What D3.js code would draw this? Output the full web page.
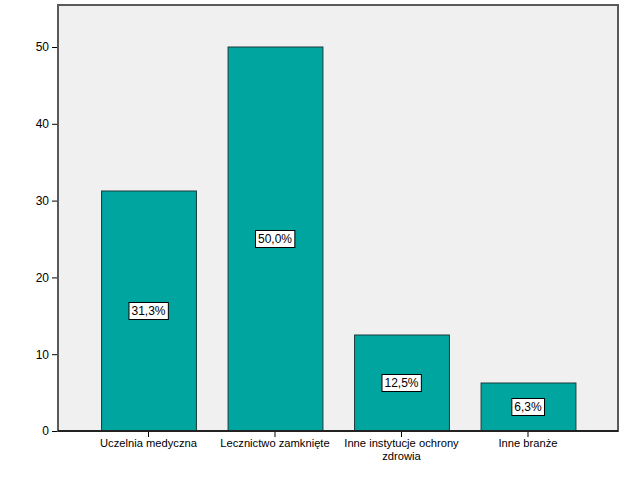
<!DOCTYPE html>
<html><head><meta charset="utf-8">
<script src="https://cdn.jsdelivr.net/npm/d3@7"></script>
<style>body{margin:0;background:#fff}text{font-family:"Liberation Sans",Arial,sans-serif;font-size:12px;fill:#000}</style>
</head><body>
<svg id="c" width="626" height="501"></svg>
<script>
const categories = ["Uczelnia medyczna", "Lecznictwo zamknięte", "Inne instytucje ochrony zdrowia", "Inne branże"];
const categoryLines = [["Uczelnia medyczna"], ["Lecznictwo zamknięte"], ["Inne instytucje ochrony", "zdrowia"], ["Inne branże"]];
const values = [31.25, 50, 12.5, 6.25];
const valueLabels = ["31,3%", "50,0%", "12,5%", "6,3%"];
const yTicks = [0, 10, 20, 30, 40, 50];

const svg = d3.select("#c");
const L = 58, R = 618, T = 5, B = 431;
const y = d3.scaleLinear().domain([0, 55.47]).range([B, T]);
const x = d3.scaleBand().domain(categories).range([85.25, 591.25]).paddingInner(0.25).paddingOuter(0.125);

svg.append("rect").attr("x", L).attr("y", T).attr("width", R - L).attr("height", B - T)
  .attr("fill", "#f0f0f0").attr("stroke", "#5a5a5a").attr("stroke-width", 2);

svg.selectAll("rect.bar").data(values).join("rect").attr("class", "bar")
  .attr("x", (d, i) => x(categories[i]) + 0.5).attr("y", d => y(d))
  .attr("width", x.bandwidth()).attr("height", d => B - y(d))
  .attr("fill", "#00a5a0").attr("stroke", "#1a3a3a").attr("stroke-width", 1);

svg.append("line").attr("x1", L).attr("x2", R).attr("y1", B).attr("y2", B).attr("stroke", "#222").attr("stroke-width", 2);

const yAxis = svg.append("g").attr("transform", `translate(${L - 1},0)`)
  .call(d3.axisLeft(y).tickValues(yTicks).tickSize(5).tickPadding(3).tickFormat(d3.format("d")));
yAxis.select(".domain").remove();
yAxis.selectAll("line").attr("stroke", "#000");
yAxis.selectAll("text").style("font-size", "12px").attr("fill", "#000");

const xAxis = svg.append("g").attr("transform", `translate(0,${B + 1})`)
  .call(d3.axisBottom(x).tickSize(5).tickFormat(""));
xAxis.select(".domain").remove();
xAxis.selectAll("line").attr("stroke", "#000");
categoryLines.forEach((lines, i) => {
  const cx = x(categories[i]) + x.bandwidth() / 2;
  const t = svg.append("text").attr("x", cx).attr("y", 447).attr("text-anchor", "middle").style("font-size", "11.2px");
  lines.forEach((ln, j) => t.append("tspan").attr("x", cx).attr("dy", j ? 12.5 : 0).text(ln));
});

values.forEach((v, i) => {
  const cx = x(categories[i]) + x.bandwidth() / 2, cy = y(v / 2);
  const g = svg.append("g");
  const t = g.append("text").attr("x", cx).attr("y", cy + 4).attr("text-anchor", "middle").text(valueLabels[i]);
  const bb = t.node().getBBox();
  g.insert("rect", "text").attr("x", bb.x - 2.5).attr("y", cy - 8.5).attr("width", bb.width + 5).attr("height", 17)
    .attr("fill", "#fff").attr("stroke", "#000").attr("stroke-width", 1);
});
</script>
</body></html>
